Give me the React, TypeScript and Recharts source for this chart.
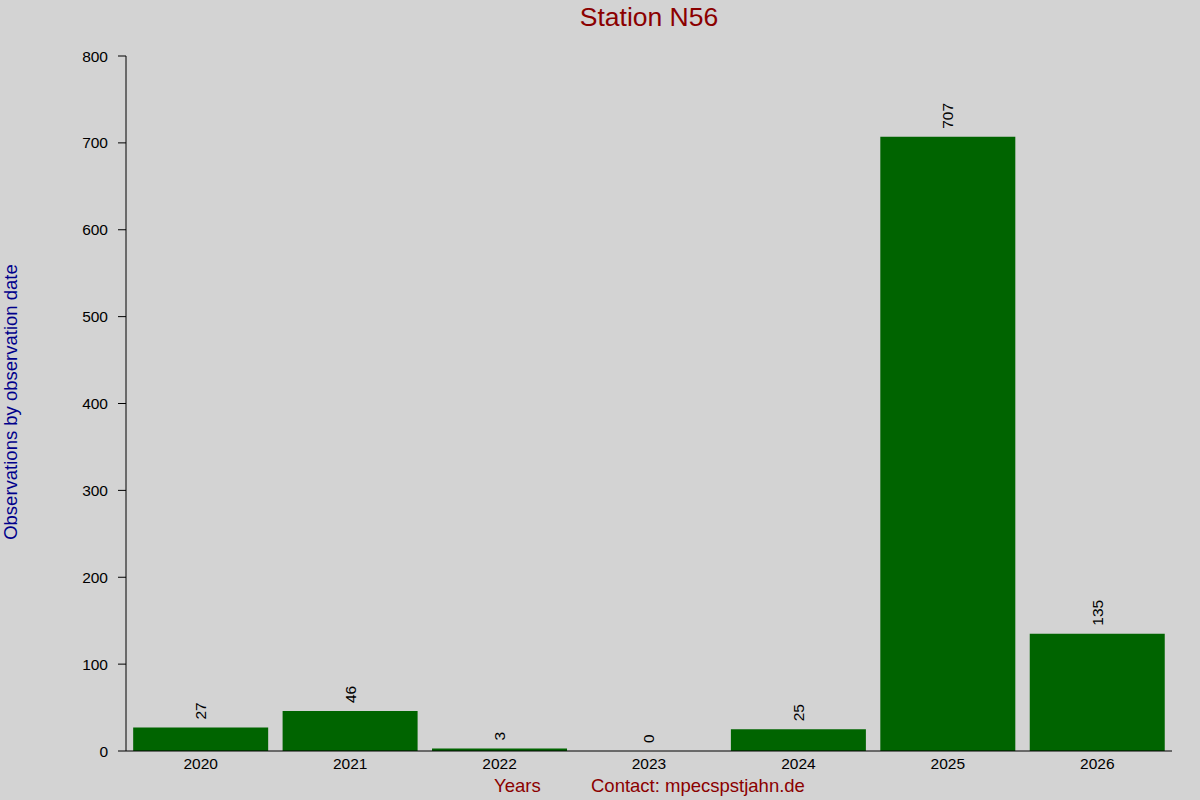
import React from 'react'
import { BarChart, Bar, XAxis, YAxis, LabelList } from 'recharts'

const years = ['2020', '2021', '2022', '2023', '2024', '2025', '2026']
const observations = [27, 46, 3, 0, 25, 707, 135]
const yTicks = [0, 100, 200, 300, 400, 500, 600, 700, 800]

const data = years.map((year, i) => ({ year, count: observations[i] }))

const font = '"Liberation Sans", Arial, sans-serif'

// rotated value label sitting just above each bar
const BarLabel = (props: any) => {
  const { x, y, width, value } = props
  const cx = x + width / 2
  const ty = y - 8
  return (
    <text
      x={cx}
      y={ty}
      transform={`rotate(-90, ${cx}, ${ty})`}
      textAnchor="start"
      dominantBaseline="central"
      fontSize={15.5}
      fontFamily={font}
      fill="#000"
    >
      {value}
    </text>
  )
}

// tiny tick dots along the top edge
const TopDot = (props: any) => {
  const { x, y } = props
  return <rect x={x - 0.5} y={y - 1} width={1} height={1} fill="#000" />
}

export default function App() {
  return (
    <div
      style={{
        position: 'absolute',
        left: 0,
        top: 0,
        width: 1200,
        height: 800,
        background: '#d3d3d3',
        fontFamily: font,
      }}
    >
      <div
        style={{
          position: 'absolute',
          top: 2,
          width: 1200,
          left: 49,
          textAlign: 'center',
          fontSize: 26.5,
          color: '#8b0000',
        }}
      >
        Station N56
      </div>
      <div
        style={{
          position: 'absolute',
          left: 11,
          top: 402,
          transform: 'translate(-50%, -50%) rotate(-90deg)',
          whiteSpace: 'nowrap',
          fontSize: 18.5,
          color: '#00008b',
        }}
      >
        Observations by observation date
      </div>
      <div
        style={{
          position: 'absolute',
          top: 775,
          left: 494,
          fontSize: 18.5,
          color: '#8b0000',
          whiteSpace: 'nowrap',
        }}
      >
        Years
      </div>
      <div
        style={{
          position: 'absolute',
          top: 775,
          left: 591,
          fontSize: 18.5,
          color: '#8b0000',
          whiteSpace: 'nowrap',
        }}
      >
        Contact: mpecspstjahn.de
      </div>
      <BarChart
        width={1200}
        height={800}
        data={data}
        margin={{ top: 56, right: 28, left: 66, bottom: 19 }}
        barCategoryGap="4.8%"
      >
        <XAxis
          dataKey="year"
          height={30}
          axisLine={{ stroke: '#000' }}
          tickLine={false}
          tickSize={6}
          tickMargin={1}
          tick={{ fontSize: 15.5, fill: '#000', fontFamily: font }}
          interval={0}
        />
        <XAxis
          dataKey="year"
          xAxisId="top"
          orientation="top"
          height={0}
          axisLine={false}
          tickLine={false}
          tick={<TopDot />}
          interval={0}
        />
        <YAxis
          width={60}
          domain={[0, 800]}
          ticks={yTicks}
          interval={0}
          axisLine={{ stroke: '#000' }}
          tickLine={{ stroke: '#000' }}
          tickSize={8}
          tickMargin={10}
          tick={{ fontSize: 15.5, fill: '#000', fontFamily: font }}
        />
        <Bar
          dataKey="count"
          fill="#006400"
          isAnimationActive={false}
          minPointSize={(value: number) => (value === 0 ? 0.01 : 0)}
        >
          <LabelList dataKey="count" content={<BarLabel />} />
        </Bar>
      </BarChart>
    </div>
  )
}
